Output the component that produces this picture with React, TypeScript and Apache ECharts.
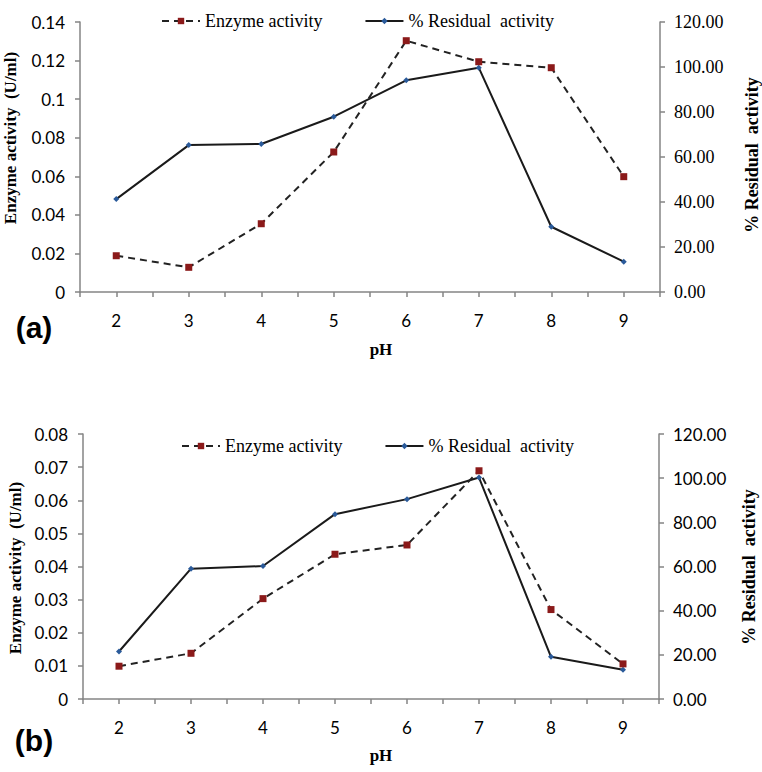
import React, { useEffect, useRef } from "react";
import * as echarts from "echarts";

const pH = [2, 3, 4, 5, 6, 7, 8, 9];
const enzymeA = [0.0188, 0.0128, 0.0354, 0.0726, 0.1303, 0.1194, 0.1163, 0.0598];
const residualA = [41.3, 65.3, 65.8, 77.9, 94.1, 99.7, 29.0, 13.5];
const enzymeB = [0.0099, 0.0138, 0.0303, 0.0437, 0.0465, 0.0689, 0.027, 0.0106];
const residualB = [21.5, 59.0, 60.2, 83.7, 90.5, 100.3, 19.1, 13.2];

const leftMaxA = 0.14;
const leftIntA = 0.02;
const leftMaxB = 0.08;
const leftIntB = 0.01;
const rightMax = 120;
const rightInt = 20;

const NAME_ENZ = "Enzyme activity";
const NAME_RES = "% Residual  activity";
const Y_NAME_LEFT = "Enzyme activity  (U/ml)";
const Y_NAME_RIGHT = "% Residual  activity";
const X_NAME = "pH";

const AXIS_COLOR = "#858585";
const SERIF = "'Liberation Serif', 'Times New Roman', serif";
const SANS = "Lato, 'Noto Sans', sans-serif";

export default function App() {
  const ref = useRef<HTMLDivElement>(null);
  useEffect(() => {
    if (!ref.current) return;
    const chart = echarts.init(ref.current, undefined, { renderer: "svg" });

    const xAxisFor = (gridIndex: number) => ({
      type: "value",
      gridIndex,
      min: 1.5,
      max: 9.5,
      interval: 0.5,
      axisLine: { show: true, onZero: false, lineStyle: { color: AXIS_COLOR, width: 1.5 } },
      axisTick: { show: true, length: 5, inside: false, lineStyle: { color: AXIS_COLOR, width: 1.5 } },
      axisLabel: {
        margin: 20,
        color: "#000",
        fontFamily: SANS,
        fontSize: 17,
        formatter: (v: number) => (Number.isInteger(v) ? String(v) : ""),
      },
      splitLine: { show: false },
    });

    const yLeft = (gridIndex: number, max: number, interval: number, font: string) => ({
      type: "value",
      gridIndex,
      position: "left",
      min: 0,
      max,
      interval,
      axisLine: { show: true, lineStyle: { color: AXIS_COLOR, width: 1.5 } },
      axisTick: { show: true, length: 5, lineStyle: { color: AXIS_COLOR, width: 1.5 } },
      axisLabel: { margin: 15, color: "#000", fontFamily: font, fontSize: 17 },
      splitLine: { show: false },
    });

    const yRight = (gridIndex: number, font: string, size: number) => ({
      type: "value",
      gridIndex,
      position: "right",
      min: 0,
      max: rightMax,
      interval: rightInt,
      axisLine: { show: true, lineStyle: { color: AXIS_COLOR, width: 1.5 } },
      axisTick: { show: true, length: 5, lineStyle: { color: AXIS_COLOR, width: 1.5 } },
      axisLabel: {
        margin: 14,
        color: "#000",
        fontFamily: font,
        fontSize: size,
        formatter: (v: number) => v.toFixed(2),
      },
      splitLine: { show: false },
    });

    const enzSeries = (idx: number, vals: number[]) => ({
      name: NAME_ENZ,
      type: "line",
      xAxisIndex: idx,
      yAxisIndex: idx * 2,
      data: pH.map((p, i) => [p, vals[i]]),
      symbol: "rect",
      symbolSize: 7,
      itemStyle: { color: "#8b1a1a" },
      lineStyle: { color: "#222", width: 2, type: [7, 5] },
      z: 3,
    });

    const resSeries = (idx: number, vals: number[]) => ({
      name: NAME_RES,
      type: "line",
      xAxisIndex: idx,
      yAxisIndex: idx * 2 + 1,
      data: pH.map((p, i) => [p, vals[i]]),
      symbol: "diamond",
      symbolSize: 6,
      itemStyle: { color: "#2a5a9a" },
      lineStyle: { color: "#1a1a1a", width: 2 },
      z: 2,
    });

    const legendFor = (left: number, top: number) => ({
      data: [NAME_ENZ, NAME_RES],
      left,
      top,
      itemWidth: 38,
      itemHeight: 8,
      itemGap: 42,
      textStyle: { fontFamily: SERIF, fontSize: 18, color: "#000" },
    });

    const vText = (x: number, y: number, text: string, size: number) => ({
      type: "text",
      x,
      y,
      rotation: Math.PI / 2,
      style: {
        text,
        fill: "#000",
        font: `bold ${size}px ${SERIF}`,
        textAlign: "center",
        textVerticalAlign: "middle",
      },
    });

    const hText = (x: number, y: number, text: string, font: string) => ({
      type: "text",
      x,
      y,
      style: {
        text,
        fill: "#000",
        font,
        textAlign: "center",
        textVerticalAlign: "middle",
      },
    });

    chart.setOption({
      animation: false,
      backgroundColor: "#fff",
      grid: [
        { left: 80, right: 102, top: 22, height: 270 },
        { left: 83, right: 103, top: 434, height: 265 },
      ],
      xAxis: [xAxisFor(0), xAxisFor(1)],
      yAxis: [
        yLeft(0, leftMaxA, leftIntA, SANS),
        yRight(0, SERIF, 18),
        yLeft(1, leftMaxB, leftIntB, SANS),
        yRight(1, SANS, 17),
      ],
      legend: [legendFor(156, 7), legendFor(176, 432)],
      series: [
        enzSeries(0, enzymeA),
        resSeries(0, residualA),
        enzSeries(1, enzymeB),
        resSeries(1, residualB),
      ],
      graphic: [
        vText(10, 138, Y_NAME_LEFT, 17),
        vText(752, 155, Y_NAME_RIGHT, 18),
        vText(15, 568, Y_NAME_LEFT, 17),
        vText(749, 567, Y_NAME_RIGHT, 18),
        hText(381, 349, X_NAME, `bold 17px ${SERIF}`),
        hText(381, 755, X_NAME, `bold 17px ${SERIF}`),
        hText(34, 327, "(a)", `bold 30px Arial, 'Liberation Sans', sans-serif`),
        hText(34, 740, "(b)", `bold 30px Arial, 'Liberation Sans', sans-serif`),
      ],
    });
    return () => chart.dispose();
  }, []);
  return (
    <div
      ref={ref}
      style={{ position: "absolute", left: 0, top: 0, width: 762, height: 772 }}
    />
  );
}
